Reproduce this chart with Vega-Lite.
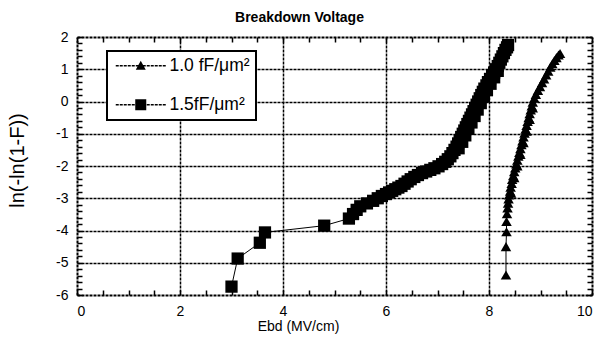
{
  "$schema": "https://vega.github.io/schema/vega-lite/v6.json",
  "width": 515,
  "height": 258,
  "autosize": "none",
  "padding": {"left": 77, "top": 37, "right": 8, "bottom": 43},
  "background": "white",
  "title": {"text": "Breakdown Voltage", "fontSize": 14, "fontWeight": "bold", "font": "Liberation Sans", "anchor": "middle", "dx": -35, "offset": 5, "color": "black"},
  "config": {"font": "Liberation Sans", "view": {"stroke": null}, "legend": {"strokeWidth": 2}},
  "datasets": {
    "d": [
      {"series": "1.0 fF/μm²", "ebd": 8.33, "lnF": -5.38},
      {"series": "1.0 fF/μm²", "ebd": 8.33, "lnF": -4.5},
      {"series": "1.0 fF/μm²", "ebd": 8.34, "lnF": -4.04},
      {"series": "1.0 fF/μm²", "ebd": 8.34, "lnF": -3.72},
      {"series": "1.0 fF/μm²", "ebd": 8.35, "lnF": -3.48},
      {"series": "1.0 fF/μm²", "ebd": 8.36, "lnF": -3.3},
      {"series": "1.0 fF/μm²", "ebd": 8.37, "lnF": -3.15},
      {"series": "1.0 fF/μm²", "ebd": 8.38, "lnF": -3.02},
      {"series": "1.0 fF/μm²", "ebd": 8.39, "lnF": -2.9},
      {"series": "1.0 fF/μm²", "ebd": 8.43, "lnF": -2.84},
      {"series": "1.0 fF/μm²", "ebd": 8.41, "lnF": -2.78},
      {"series": "1.0 fF/μm²", "ebd": 8.42, "lnF": -2.66},
      {"series": "1.0 fF/μm²", "ebd": 8.44, "lnF": -2.54},
      {"series": "1.0 fF/μm²", "ebd": 8.45, "lnF": -2.42},
      {"series": "1.0 fF/μm²", "ebd": 8.49, "lnF": -2.36},
      {"series": "1.0 fF/μm²", "ebd": 8.47, "lnF": -2.3},
      {"series": "1.0 fF/μm²", "ebd": 8.49, "lnF": -2.18},
      {"series": "1.0 fF/μm²", "ebd": 8.51, "lnF": -2.06},
      {"series": "1.0 fF/μm²", "ebd": 8.55, "lnF": -2.0},
      {"series": "1.0 fF/μm²", "ebd": 8.53, "lnF": -1.94},
      {"series": "1.0 fF/μm²", "ebd": 8.55, "lnF": -1.82},
      {"series": "1.0 fF/μm²", "ebd": 8.57, "lnF": -1.7},
      {"series": "1.0 fF/μm²", "ebd": 8.61, "lnF": -1.64},
      {"series": "1.0 fF/μm²", "ebd": 8.59, "lnF": -1.58},
      {"series": "1.0 fF/μm²", "ebd": 8.61, "lnF": -1.46},
      {"series": "1.0 fF/μm²", "ebd": 8.63, "lnF": -1.34},
      {"series": "1.0 fF/μm²", "ebd": 8.67, "lnF": -1.28},
      {"series": "1.0 fF/μm²", "ebd": 8.65, "lnF": -1.22},
      {"series": "1.0 fF/μm²", "ebd": 8.67, "lnF": -1.1},
      {"series": "1.0 fF/μm²", "ebd": 8.69, "lnF": -0.98},
      {"series": "1.0 fF/μm²", "ebd": 8.73, "lnF": -0.92},
      {"series": "1.0 fF/μm²", "ebd": 8.71, "lnF": -0.86},
      {"series": "1.0 fF/μm²", "ebd": 8.73, "lnF": -0.74},
      {"series": "1.0 fF/μm²", "ebd": 8.75, "lnF": -0.62},
      {"series": "1.0 fF/μm²", "ebd": 8.79, "lnF": -0.56},
      {"series": "1.0 fF/μm²", "ebd": 8.77, "lnF": -0.5},
      {"series": "1.0 fF/μm²", "ebd": 8.79, "lnF": -0.38},
      {"series": "1.0 fF/μm²", "ebd": 8.81, "lnF": -0.26},
      {"series": "1.0 fF/μm²", "ebd": 8.85, "lnF": -0.2},
      {"series": "1.0 fF/μm²", "ebd": 8.83, "lnF": -0.14},
      {"series": "1.0 fF/μm²", "ebd": 8.85, "lnF": -0.02},
      {"series": "1.0 fF/μm²", "ebd": 8.88, "lnF": 0.1},
      {"series": "1.0 fF/μm²", "ebd": 8.91, "lnF": 0.22},
      {"series": "1.0 fF/μm²", "ebd": 8.95, "lnF": 0.34},
      {"series": "1.0 fF/μm²", "ebd": 8.99, "lnF": 0.46},
      {"series": "1.0 fF/μm²", "ebd": 9.03, "lnF": 0.58},
      {"series": "1.0 fF/μm²", "ebd": 9.07, "lnF": 0.7},
      {"series": "1.0 fF/μm²", "ebd": 9.11, "lnF": 0.82},
      {"series": "1.0 fF/μm²", "ebd": 9.15, "lnF": 0.94},
      {"series": "1.0 fF/μm²", "ebd": 9.19, "lnF": 1.06},
      {"series": "1.0 fF/μm²", "ebd": 9.23, "lnF": 1.17},
      {"series": "1.0 fF/μm²", "ebd": 9.27, "lnF": 1.27},
      {"series": "1.0 fF/μm²", "ebd": 9.31, "lnF": 1.36},
      {"series": "1.0 fF/μm²", "ebd": 9.35, "lnF": 1.44},
      {"series": "1.0 fF/μm²", "ebd": 9.38, "lnF": 1.49},
      {"series": "1.5fF/μm²", "ebd": 3.0, "lnF": -5.74},
      {"series": "1.5fF/μm²", "ebd": 3.12, "lnF": -4.87},
      {"series": "1.5fF/μm²", "ebd": 3.55, "lnF": -4.38},
      {"series": "1.5fF/μm²", "ebd": 3.65, "lnF": -4.06},
      {"series": "1.5fF/μm²", "ebd": 4.8, "lnF": -3.85},
      {"series": "1.5fF/μm²", "ebd": 5.28, "lnF": -3.63},
      {"series": "1.5fF/μm²", "ebd": 5.36, "lnF": -3.49},
      {"series": "1.5fF/μm²", "ebd": 5.43, "lnF": -3.36},
      {"series": "1.5fF/μm²", "ebd": 5.5, "lnF": -3.25},
      {"series": "1.5fF/μm²", "ebd": 5.63, "lnF": -3.16},
      {"series": "1.5fF/μm²", "ebd": 5.75, "lnF": -3.08},
      {"series": "1.5fF/μm²", "ebd": 5.84, "lnF": -3.0},
      {"series": "1.5fF/μm²", "ebd": 5.92, "lnF": -2.93},
      {"series": "1.5fF/μm²", "ebd": 6.0, "lnF": -2.87},
      {"series": "1.5fF/μm²", "ebd": 6.06, "lnF": -2.82},
      {"series": "1.5fF/μm²", "ebd": 6.12, "lnF": -2.77},
      {"series": "1.5fF/μm²", "ebd": 6.18, "lnF": -2.72},
      {"series": "1.5fF/μm²", "ebd": 6.24, "lnF": -2.67},
      {"series": "1.5fF/μm²", "ebd": 6.3, "lnF": -2.62},
      {"series": "1.5fF/μm²", "ebd": 6.36, "lnF": -2.55},
      {"series": "1.5fF/μm²", "ebd": 6.42, "lnF": -2.48},
      {"series": "1.5fF/μm²", "ebd": 6.48, "lnF": -2.41},
      {"series": "1.5fF/μm²", "ebd": 6.55, "lnF": -2.34},
      {"series": "1.5fF/μm²", "ebd": 6.62, "lnF": -2.28},
      {"series": "1.5fF/μm²", "ebd": 6.7, "lnF": -2.22},
      {"series": "1.5fF/μm²", "ebd": 6.78, "lnF": -2.17},
      {"series": "1.5fF/μm²", "ebd": 6.86, "lnF": -2.12},
      {"series": "1.5fF/μm²", "ebd": 6.94, "lnF": -2.07},
      {"series": "1.5fF/μm²", "ebd": 7.02, "lnF": -2.01},
      {"series": "1.5fF/μm²", "ebd": 7.09, "lnF": -1.94},
      {"series": "1.5fF/μm²", "ebd": 7.15, "lnF": -1.87},
      {"series": "1.5fF/μm²", "ebd": 7.2, "lnF": -1.79},
      {"series": "1.5fF/μm²", "ebd": 7.25, "lnF": -1.7},
      {"series": "1.5fF/μm²", "ebd": 7.29, "lnF": -1.6},
      {"series": "1.5fF/μm²", "ebd": 7.33, "lnF": -1.5},
      {"series": "1.5fF/μm²", "ebd": 7.41, "lnF": -1.45},
      {"series": "1.5fF/μm²", "ebd": 7.37, "lnF": -1.4},
      {"series": "1.5fF/μm²", "ebd": 7.4, "lnF": -1.3},
      {"series": "1.5fF/μm²", "ebd": 7.48, "lnF": -1.25},
      {"series": "1.5fF/μm²", "ebd": 7.43, "lnF": -1.2},
      {"series": "1.5fF/μm²", "ebd": 7.46, "lnF": -1.1},
      {"series": "1.5fF/μm²", "ebd": 7.54, "lnF": -1.05},
      {"series": "1.5fF/μm²", "ebd": 7.49, "lnF": -1.0},
      {"series": "1.5fF/μm²", "ebd": 7.52, "lnF": -0.9},
      {"series": "1.5fF/μm²", "ebd": 7.6, "lnF": -0.85},
      {"series": "1.5fF/μm²", "ebd": 7.55, "lnF": -0.8},
      {"series": "1.5fF/μm²", "ebd": 7.58, "lnF": -0.7},
      {"series": "1.5fF/μm²", "ebd": 7.66, "lnF": -0.65},
      {"series": "1.5fF/μm²", "ebd": 7.61, "lnF": -0.6},
      {"series": "1.5fF/μm²", "ebd": 7.64, "lnF": -0.5},
      {"series": "1.5fF/μm²", "ebd": 7.72, "lnF": -0.45},
      {"series": "1.5fF/μm²", "ebd": 7.67, "lnF": -0.4},
      {"series": "1.5fF/μm²", "ebd": 7.7, "lnF": -0.3},
      {"series": "1.5fF/μm²", "ebd": 7.78, "lnF": -0.25},
      {"series": "1.5fF/μm²", "ebd": 7.73, "lnF": -0.2},
      {"series": "1.5fF/μm²", "ebd": 7.76, "lnF": -0.1},
      {"series": "1.5fF/μm²", "ebd": 7.84, "lnF": -0.05},
      {"series": "1.5fF/μm²", "ebd": 7.79, "lnF": 0.0},
      {"series": "1.5fF/μm²", "ebd": 7.82, "lnF": 0.1},
      {"series": "1.5fF/μm²", "ebd": 7.9, "lnF": 0.15},
      {"series": "1.5fF/μm²", "ebd": 7.85, "lnF": 0.2},
      {"series": "1.5fF/μm²", "ebd": 7.88, "lnF": 0.3},
      {"series": "1.5fF/μm²", "ebd": 7.96, "lnF": 0.35},
      {"series": "1.5fF/μm²", "ebd": 7.91, "lnF": 0.4},
      {"series": "1.5fF/μm²", "ebd": 7.95, "lnF": 0.5},
      {"series": "1.5fF/μm²", "ebd": 8.03, "lnF": 0.55},
      {"series": "1.5fF/μm²", "ebd": 7.98, "lnF": 0.6},
      {"series": "1.5fF/μm²", "ebd": 8.02, "lnF": 0.7},
      {"series": "1.5fF/μm²", "ebd": 8.1, "lnF": 0.75},
      {"series": "1.5fF/μm²", "ebd": 8.06, "lnF": 0.8},
      {"series": "1.5fF/μm²", "ebd": 8.1, "lnF": 0.9},
      {"series": "1.5fF/μm²", "ebd": 8.17, "lnF": 0.95},
      {"series": "1.5fF/μm²", "ebd": 8.13, "lnF": 1.0},
      {"series": "1.5fF/μm²", "ebd": 8.17, "lnF": 1.1},
      {"series": "1.5fF/μm²", "ebd": 8.2, "lnF": 1.2},
      {"series": "1.5fF/μm²", "ebd": 8.23, "lnF": 1.3},
      {"series": "1.5fF/μm²", "ebd": 8.26, "lnF": 1.4},
      {"series": "1.5fF/μm²", "ebd": 8.29, "lnF": 1.5},
      {"series": "1.5fF/μm²", "ebd": 8.32, "lnF": 1.6},
      {"series": "1.5fF/μm²", "ebd": 8.35, "lnF": 1.68},
      {"series": "1.5fF/μm²", "ebd": 8.37, "lnF": 1.75}
    ]
  },
  "data": {"name": "d"},
  "resolve": {"axis": {"x": "independent", "y": "independent"}},
  "layer": [
    {
      "mark": {"type": "line", "color": "black", "strokeWidth": 1},
      "encoding": {
        "x": {"field": "ebd", "type": "quantitative", "scale": {"domain": [0, 10], "nice": false, "zero": false},
          "axis": {"orient": "bottom", "values": [0,0.5,1,1.5,2,2.5,3,3.5,4,4.5,5,5.5,6,6.5,7,7.5,8,8.5,9,9.5,10],
            "labelExpr": "datum.value % 2 === 0 ? '' + datum.value : ''",
            "grid": true, "gridColor": "black", "gridDash": [3, 1], "gridWidth": 1.5,
            "gridOpacity": {"condition": {"test": "datum.value % 2 === 0 && datum.value > 0 && datum.value < 10", "value": 1}, "value": 0},
            "tickSize": -5, "tickColor": "black", "tickWidth": 1.5,
            "domainColor": "black", "domainWidth": 2, "domainDash": [3, 1],
            "labelFontSize": 14, "labelColor": "black", "labelPadding": 14, "labelFont": "Liberation Sans",
            "title": "Ebd (MV/cm)", "titleFontSize": 14, "titleFontWeight": "normal", "titleColor": "black", "titleFont": "Liberation Sans",
            "titleX": 221, "titleY": 35, "titleAlign": "center", "titleBaseline": "alphabetic"}},
        "y": {"field": "lnF", "type": "quantitative", "scale": {"domain": [-6, 2], "nice": false, "zero": false},
          "axis": {"orient": "left", "values": [-6,-5.8,-5.6,-5.4,-5.2,-5,-4.8,-4.6,-4.4,-4.2,-4,-3.8,-3.6,-3.4,-3.2,-3,-2.8,-2.6,-2.4,-2.2,-2,-1.8,-1.6,-1.4,-1.2,-1,-0.8,-0.6,-0.4,-0.2,0,0.2,0.4,0.6,0.8,1,1.2,1.4,1.6,1.8,2],
            "labelExpr": "datum.value % 1 === 0 ? '' + datum.value : ''",
            "grid": true, "gridColor": "black", "gridDash": [3, 1], "gridWidth": 1.5,
            "gridOpacity": {"condition": {"test": "datum.value % 1 === 0 && datum.value > -6 && datum.value < 2", "value": 1}, "value": 0},
            "tickSize": -5, "tickColor": "black", "tickWidth": 1.5,
            "domainColor": "black", "domainWidth": 2, "domainDash": [3, 1],
            "labelFontSize": 14, "labelColor": "black", "labelPadding": 14, "labelFont": "Liberation Sans",
            "title": "ln(-ln(1-F))", "titleFontSize": 20, "titleFontWeight": "normal", "titleColor": "black", "titleFont": "Liberation Sans",
            "titleX": -60, "titleY": 123, "titleAngle": 270, "titleAlign": "center", "titleBaseline": "middle"}},
        "detail": {"field": "series", "type": "nominal"},
        "order": {"field": "lnF", "type": "quantitative"}
      }
    },
    {
      "mark": {"type": "point", "filled": true, "color": "black", "opacity": 1},
      "encoding": {
        "x": {"field": "ebd", "type": "quantitative",
          "axis": {"orient": "top", "values": [0,0.5,1,1.5,2,2.5,3,3.5,4,4.5,5,5.5,6,6.5,7,7.5,8,8.5,9,9.5,10],
            "labels": false, "grid": false, "title": null,
            "tickSize": -5, "tickColor": "black", "tickWidth": 1.5,
            "domainColor": "black", "domainWidth": 2, "domainDash": [3, 1]}},
        "y": {"field": "lnF", "type": "quantitative",
          "axis": {"orient": "right", "values": [-6,-5.8,-5.6,-5.4,-5.2,-5,-4.8,-4.6,-4.4,-4.2,-4,-3.8,-3.6,-3.4,-3.2,-3,-2.8,-2.6,-2.4,-2.2,-2,-1.8,-1.6,-1.4,-1.2,-1,-0.8,-0.6,-0.4,-0.2,0,0.2,0.4,0.6,0.8,1,1.2,1.4,1.6,1.8,2],
            "labels": false, "grid": false, "title": null,
            "tickSize": -5, "tickColor": "black", "tickWidth": 1.5,
            "domainColor": "black", "domainWidth": 2, "domainDash": [3, 1]}},
        "size": {"condition": {"test": "indexof(datum.series, '1.0') === 0", "value": 110}, "value": 150},
        "shape": {"condition": {"test": "indexof(datum.series, '1.0') === 0", "value": "triangle-up"}, "value": "square"}
      }
    },
    {
      "mark": {"type": "point", "fill": "black", "stroke": "black", "strokeWidth": 1, "opacity": 0},
      "encoding": {
        "x": {"field": "ebd", "type": "quantitative", "axis": null},
        "y": {"field": "lnF", "type": "quantitative", "axis": null},
        "shape": {"field": "series", "type": "nominal",
          "scale": {"domain": ["1.0 fF/μm²", "1.5fF/μm²"], "range": [
            "M-5,-0.14L-4.4,-0.14L-4.4,0.14L-5,0.14ZM-4.2,-0.14L-3.6,-0.14L-3.6,0.14L-4.2,0.14ZM-3.4,-0.14L-2.8,-0.14L-2.8,0.14L-3.4,0.14ZM-2.6,-0.14L-2,-0.14L-2,0.14L-2.6,0.14ZM-1.8,-0.14L-1.2,-0.14L-1.2,0.14L-1.8,0.14ZM1.2,-0.14L1.8,-0.14L1.8,0.14L1.2,0.14ZM2,-0.14L2.6,-0.14L2.6,0.14L2,0.14ZM2.8,-0.14L3.4,-0.14L3.4,0.14L2.8,0.14ZM3.6,-0.14L4.2,-0.14L4.2,0.14L3.6,0.14ZM4.4,-0.14L5,-0.14L5,0.14L4.4,0.14ZM-1,-0.14L1,-0.14L1,0.14L-1,0.14ZM0,-1L1,0.8L-1,0.8Z",
            "M-5,-0.14L-4.4,-0.14L-4.4,0.14L-5,0.14ZM-4.2,-0.14L-3.6,-0.14L-3.6,0.14L-4.2,0.14ZM-3.4,-0.14L-2.8,-0.14L-2.8,0.14L-3.4,0.14ZM-2.6,-0.14L-2,-0.14L-2,0.14L-2.6,0.14ZM-1.8,-0.14L-1.2,-0.14L-1.2,0.14L-1.8,0.14ZM1.2,-0.14L1.8,-0.14L1.8,0.14L1.2,0.14ZM2,-0.14L2.6,-0.14L2.6,0.14L2,0.14ZM2.8,-0.14L3.4,-0.14L3.4,0.14L2.8,0.14ZM3.6,-0.14L4.2,-0.14L4.2,0.14L3.6,0.14ZM4.4,-0.14L5,-0.14L5,0.14L4.4,0.14ZM-1.1,-1.1L1.1,-1.1L1.1,1.1L-1.1,1.1Z"
          ]},
          "legend": {"title": null, "orient": "none", "legendX": 30, "legendY": 14,
            "padding": 6, "fillColor": "white", "strokeColor": "black", "cornerRadius": 0,
            "symbolSize": 100, "symbolOffset": 19, "labelOffset": 20, "rowPadding": 20,
            "labelFontSize": 17.5, "labelColor": "black", "labelFont": "Liberation Sans",
            "symbolOpacity": 1, "symbolFillColor": "black", "symbolStrokeColor": "black", "symbolStrokeWidth": 0}}
      }
    }
  ]
}
